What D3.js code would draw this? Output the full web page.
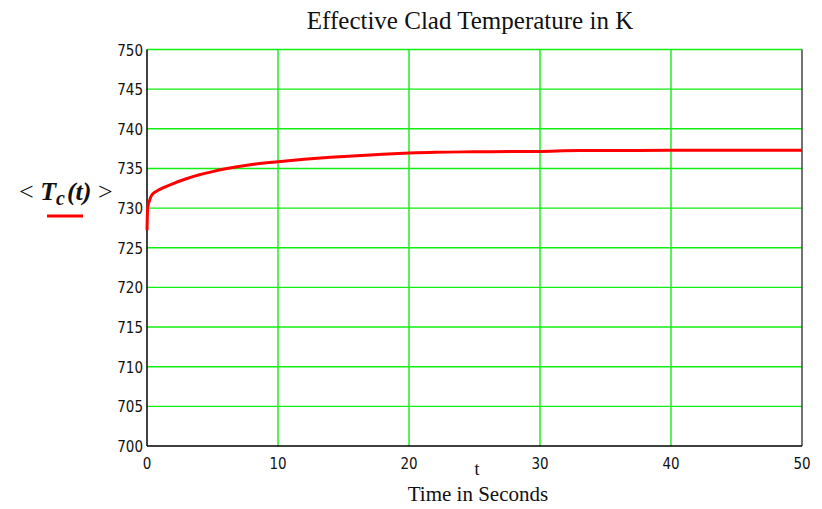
<!doctype html>
<html>
  <head>
    <meta charset="utf-8"/>
    <style>
      body { margin: 0; background: #fff; }
    </style>
  </head>
  <body>
    <script src="https://cdn.jsdelivr.net/npm/d3@7"></script>
    <script>

      // values
      const times = [0, 0.05, 0.2, 0.35, 0.6, 0.9, 1.3, 2, 3, 4, 5, 6, 8, 10, 12, 14, 16, 18, 20, 22, 25, 30, 33, 35, 40, 45, 50];
      const temps = [727.2, 730.0, 731.0, 731.6, 732.0, 732.3, 732.6, 733.1, 733.7, 734.2, 734.6, 734.95, 735.5, 735.85, 736.15, 736.4, 736.6, 736.8, 736.95, 737.05, 737.1, 737.15, 737.25, 737.25, 737.3, 737.3, 737.3];
      const xTicks = [0, 10, 20, 30, 40, 50];
      const yTicks = [700, 705, 710, 715, 720, 725, 730, 735, 740, 745, 750];

      const width = 822, height = 509;
      const plot = { left: 147, right: 802, top: 49.5, bottom: 446 };

      const x = d3.scaleLinear().domain([0, 50]).range([plot.left, plot.right]);
      const y = d3.scaleLinear().domain([700, 750]).range([plot.bottom, plot.top]);

      const svg = d3.select('body').append('svg')
            .attr('width', width)
            .attr('height', height)
            .style('display', 'block');

      const grid = svg.append('g')
            .attr('stroke', '#11ee11')
            .attr('stroke-width', 1.4);

      grid.selectAll('line.h')
        .data(yTicks.filter(d => d > 700))
        .join('line')
        .attr('class', 'h')
        .attr('x1', plot.left).attr('x2', plot.right)
        .attr('y1', d => y(d)).attr('y2', d => y(d));

      grid.selectAll('line.v')
        .data(xTicks.filter(d => d > 0 && d < 50))
        .join('line')
        .attr('class', 'v')
        .attr('x1', d => x(d)).attr('x2', d => x(d))
        .attr('y1', plot.top).attr('y2', plot.bottom);

      // frame
      svg.append('line')
        .attr('x1', plot.right).attr('x2', plot.right).attr('y1', plot.top).attr('y2', plot.bottom)
        .attr('stroke', '#444').attr('stroke-width', 1.5);
      svg.append('line')
        .attr('x1', plot.left).attr('x2', plot.left).attr('y1', plot.top).attr('y2', plot.bottom)
        .attr('stroke', '#000').attr('stroke-width', 1.5);
      svg.append('line')
        .attr('x1', plot.left).attr('x2', plot.right).attr('y1', plot.bottom).attr('y2', plot.bottom)
        .attr('stroke', '#000').attr('stroke-width', 1.5);

      // tick labels
      const tickFont = '"DejaVu Sans Condensed", "Liberation Sans Narrow", sans-serif';

      svg.append('g').selectAll('text')
        .data(yTicks)
        .join('text')
        .attr('x', plot.left - 4)
        .attr('y', d => y(d) + 6)
        .attr('text-anchor', 'end')
        .style('font-family', tickFont)
        .style('font-size', '15px')
        .style('font-stretch', 'condensed')
        .attr('fill', '#111')
        .text(d => d);

      svg.append('g').selectAll('text')
        .data(xTicks)
        .join('text')
        .attr('x', d => x(d))
        .attr('y', plot.bottom + 23)
        .attr('text-anchor', 'middle')
        .style('font-family', tickFont)
        .style('font-size', '15px')
        .style('font-stretch', 'condensed')
        .attr('fill', '#111')
        .text(d => d);

      // curve
      const pts = times.map((t, i) => [t, temps[i]]);
      svg.append('path')
        .datum(pts)
        .attr('fill', 'none')
        .attr('stroke', '#ff0000')
        .attr('stroke-width', 3)
        .attr('d', d3.line().x(d => x(d[0])).y(d => y(d[1])).curve(d3.curveMonotoneX));

      const serif = '"Liberation Serif", "Times New Roman", serif';

      // title
      svg.append('text')
        .attr('x', 470)
        .attr('y', 29)
        .attr('text-anchor', 'middle')
        .style('font-family', serif)
        .style('font-size', '25px')
        .attr('fill', '#111')
        .text('Effective Clad Temperature in K');

      // x labels
      svg.append('text')
        .attr('x', 477)
        .attr('y', 475)
        .attr('text-anchor', 'middle')
        .style('font-family', serif)
        .style('font-size', '18px')
        .attr('fill', '#111')
        .text('t');

      svg.append('text')
        .attr('x', 478)
        .attr('y', 501)
        .attr('text-anchor', 'middle')
        .style('font-family', serif)
        .style('font-size', '21px')
        .attr('fill', '#111')
        .text('Time in Seconds');

      // y label
      const yl = svg.append('text')
        .attr('x', 19)
        .attr('y', 200)
        .style('font-family', serif)
        .style('font-size', '26px')
        .attr('fill', '#111');
      yl.append('tspan').text('< ');
      yl.append('tspan').style('font-weight', 'bold').style('font-style', 'italic').text('T');
      yl.append('tspan').style('font-weight', 'bold').style('font-style', 'italic')
        .style('font-size', '20px').attr('dy', 5).text('c');
      yl.append('tspan').style('font-weight', 'bold').style('font-style', 'italic')
        .attr('dy', -5).attr('dx', 2).text('(t)');
      yl.append('tspan').text(' >');

      svg.append('line')
        .attr('x1', 47).attr('x2', 83)
        .attr('y1', 216).attr('y2', 216)
        .attr('stroke', '#ff0000')
        .attr('stroke-width', 3);

    </script>
  </body>
</html>
